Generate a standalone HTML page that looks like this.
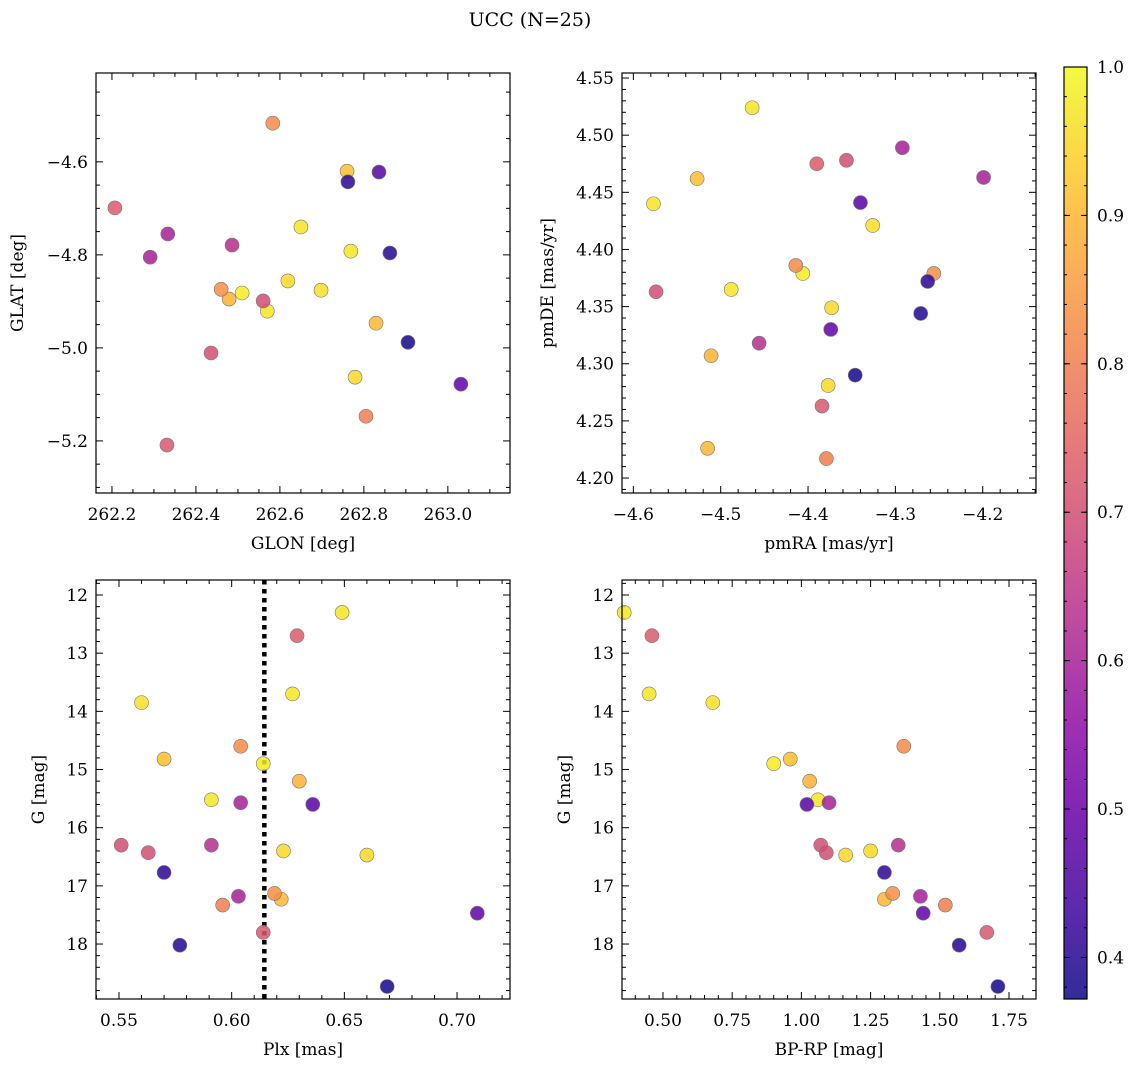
<!DOCTYPE html>
<html><head><meta charset="utf-8"><style>
body{margin:0;background:#fff}
svg{display:block;font-family:"DejaVu Serif","Liberation Serif",serif}
</style></head><body>
<svg id="fig" width="1136" height="1067" viewBox="0 0 1136 1067">
<text x="530" y="26" font-size="19" text-anchor="middle">UCC (N=25)</text>
</svg>
<script>
const gmag  = [12.3,13.7,13.85,14.9,15.52,16.47,16.4,14.82,15.2,17.23,14.6,17.13,17.33,12.7,16.3,16.43,17.8,15.57,17.18,16.3,15.6,17.47,16.77,18.02,18.73];
const bprp  = [0.36,0.45,0.68,0.90,1.06,1.16,1.25,0.96,1.03,1.30,1.37,1.33,1.52,0.46,1.07,1.09,1.67,1.10,1.43,1.35,1.02,1.44,1.30,1.57,1.71];
const plx   = [0.649,0.627,0.560,0.614,0.591,0.660,0.623,0.570,0.630,0.622,0.604,0.619,0.596,0.629,0.551,0.563,0.614,0.604,0.603,0.591,0.636,0.709,0.570,0.577,0.669];
const prob  = [0.97,0.97,0.96,0.98,0.97,0.95,0.95,0.91,0.89,0.90,0.82,0.83,0.80,0.73,0.70,0.70,0.72,0.60,0.60,0.63,0.47,0.48,0.41,0.40,0.38];
const glon  = [262.650,262.769,262.698,262.510,262.570,262.779,262.619,262.760,262.479,262.829,262.583,262.460,262.805,262.207,262.560,262.436,262.331,262.333,262.291,262.486,262.836,263.031,262.762,262.862,262.905];
const glat  = [-4.740,-4.792,-4.876,-4.882,-4.921,-5.063,-4.856,-4.620,-4.895,-4.947,-4.517,-4.874,-5.147,-4.699,-4.899,-5.011,-5.209,-4.755,-4.805,-4.779,-4.622,-5.078,-4.643,-4.796,-4.988];
const pmra  = [-4.464,-4.577,-4.326,-4.406,-4.488,-4.373,-4.377,-4.527,-4.511,-4.515,-4.414,-4.256,-4.379,-4.390,-4.356,-4.574,-4.384,-4.292,-4.199,-4.456,-4.340,-4.374,-4.263,-4.271,-4.346];
const pmde  = [4.524,4.440,4.421,4.379,4.365,4.349,4.281,4.462,4.307,4.226,4.386,4.379,4.217,4.475,4.478,4.363,4.263,4.489,4.463,4.318,4.441,4.330,4.372,4.344,4.290];
const plxLine = 0.6145;
const cbTicks = [0.4,0.5,0.6,0.7,0.8,0.9,1.0];

const NS="http://www.w3.org/2000/svg", svg=document.getElementById('fig');
function mk(t,a,p){const e=document.createElementNS(NS,t);for(const k in a)e.setAttribute(k,a[k]);(p||svg).appendChild(e);return e;}
const stops=[[0,[13,8,135]],[.1,[65,4,157]],[.2,[106,0,168]],[.3,[143,13,164]],[.4,[177,42,144]],[.5,[204,71,120]],[.6,[225,100,98]],[.7,[242,132,75]],[.8,[252,166,54]],[.9,[252,206,37]],[1,[240,249,33]]];
const vmin=0.372,vmax=1.0;
function plasma(t){t=Math.max(0,Math.min(1,t));for(let i=1;i<stops.length;i++){if(t<=stops[i][0]){const a=stops[i-1],b=stops[i],f=(t-a[0])/(b[0]-a[0]);return 'rgb('+a[1].map((v,j)=>Math.round(v+(b[1][j]-v)*f)).join(',')+')';}}}
const col=v=>plasma((v-vmin)/(vmax-vmin));
const fmt=(v,d)=>{let s=v.toFixed(d);return s.startsWith('-')?'−'+s.slice(1):s;};

function panel(o){
  const {L,T,R,B,x0,x1,y0,y1,xs,ys,name}=o;
  const g=mk('g',{});
  const X=v=>L+(v-x0)/(x1-x0)*(R-L), Y=v=>T+(v-y0)/(y1-y0)*(B-T);
  function ticks(maj,min,dec,axis){
    const lo=axis=='x'?Math.min(x0,x1):Math.min(y0,y1), hi=axis=='x'?Math.max(x0,x1):Math.max(y0,y1);
    for(let k=Math.ceil(lo/min-1e-6);k*min<=hi+1e-9;k++){
      const v=k*min, isMaj=Math.abs(v/maj-Math.round(v/maj))<1e-6, len=isMaj?7:4;
      if(axis=='x'){const p=X(v);mk('line',{x1:p,x2:p,y1:B,y2:B-len,stroke:'#000','stroke-width':1},g);mk('line',{x1:p,x2:p,y1:T,y2:T+len,stroke:'#000','stroke-width':1},g);
        if(isMaj){const t=mk('text',{x:p,y:B+27,'font-size':17,'text-anchor':'middle'},g);t.textContent=fmt(v,dec);}}
      else{const p=Y(v);mk('line',{x1:L,x2:L+len,y1:p,y2:p,stroke:'#000','stroke-width':1},g);mk('line',{x1:R,x2:R-len,y1:p,y2:p,stroke:'#000','stroke-width':1},g);
        if(isMaj){const t=mk('text',{x:L-8,y:p+6,'font-size':17,'text-anchor':'end'},g);t.textContent=fmt(v,dec);}}
    }
  }
  ticks(o.xmaj,o.xmin,o.xdec,'x');ticks(o.ymaj,o.ymin,o.ydec,'y');
  if(o.extra)o.extra(g,X,Y);
  for(let i=0;i<xs.length;i++){
    const c=mk('circle',{cx:X(xs[i]),cy:Y(ys[i]),r:7,fill:col(prob[i]),'fill-opacity':0.85,stroke:'#777','stroke-width':0.6},g);
    
    
  }
  mk('rect',{x:L,y:T,width:R-L,height:B-T,fill:'none',stroke:'#000','stroke-width':1.2},g);
  const xl=mk('text',{x:(L+R)/2,y:B+56,'font-size':17,'text-anchor':'middle'},g);xl.textContent=o.xlab;
  
  const yc=(T+B)/2, yl=mk('text',{x:o.ylx,y:yc,'font-size':17,'text-anchor':'middle',transform:`rotate(-90 ${o.ylx} ${yc})`},g);yl.textContent=o.ylab;
  
}
panel({name:'glon-glat-panel',L:96,T:73,R:510,B:493,x0:262.162,x1:263.148,y0:-4.409,y1:-5.312,xs:glon,ys:glat,xmaj:0.2,xmin:0.05,xdec:1,ymaj:0.2,ymin:0.05,ydec:1,xlab:'GLON [deg]',ylab:'GLAT [deg]',ylx:23});
panel({name:'proper-motion-panel',L:622,T:73,R:1036,B:493,x0:-4.613,x1:-4.139,y0:4.5544,y1:4.1869,xs:pmra,ys:pmde,xmaj:0.1,xmin:0.02,xdec:1,ymaj:0.05,ymin:0.01,ydec:2,xlab:'pmRA [mas/yr]',ylab:'pmDE [mas/yr]',ylx:553});
panel({name:'plx-g-panel',L:96,T:580,R:510,B:999,x0:0.5398,x1:0.7235,y0:11.742,y1:18.945,xs:plx,ys:gmag,xmaj:0.05,xmin:0.01,xdec:2,ymaj:1,ymin:0.2,ydec:0,xlab:'Plx [mas]',ylab:'G [mag]',ylx:44,
  extra:(g,X,Y)=>{const l=mk('line',{x1:X(plxLine),x2:X(plxLine),y1:580,y2:999,stroke:'#000','stroke-width':4.5,'stroke-dasharray':'4.5,4.5'},g);}});
panel({name:'cmd-panel',L:622,T:580,R:1036,B:999,x0:0.352,x1:1.8475,y0:11.742,y1:18.945,xs:bprp,ys:gmag,xmaj:0.25,xmin:0.05,xdec:2,ymaj:1,ymin:0.2,ydec:0,xlab:'BP-RP [mag]',ylab:'G [mag]',ylx:570});

const cb=mk('g',{});
const cL=1064,cR=1087,cT=67,cB=999;
const gr=mk('linearGradient',{id:'pl',x1:0,y1:1,x2:0,y2:0},mk('defs',{},cb));
stops.forEach(s=>mk('stop',{offset:s[0],'stop-color':plasma(s[0]),'stop-opacity':0.85},gr));
mk('rect',{x:cL,y:cT,width:cR-cL,height:cB-cT,fill:'url(#pl)'},cb);
const CY=v=>cB-(v-vmin)/(vmax-vmin)*(cB-cT);
for(let k=19;k<=50;k++){const v=k*0.02;if(v<vmin||v>vmax+1e-9)continue;const p=CY(v);mk('line',{x1:cR,x2:cR-3,y1:p,y2:p,stroke:'#000'},cb);mk('line',{x1:cL,x2:cL+3,y1:p,y2:p,stroke:'#000'},cb);}
cbTicks.forEach(v=>{const p=CY(v);mk('line',{x1:cR,x2:cR-6,y1:p,y2:p,stroke:'#000'},cb);mk('line',{x1:cL,x2:cL+6,y1:p,y2:p,stroke:'#000'},cb);
  const t=mk('text',{x:cR+10,y:p+6,'font-size':17},cb);t.textContent=v.toFixed(1);});
mk('rect',{x:cL,y:cT,width:cR-cL,height:cB-cT,fill:'none',stroke:'#000','stroke-width':1.2},cb);
</script>
</body></html>
